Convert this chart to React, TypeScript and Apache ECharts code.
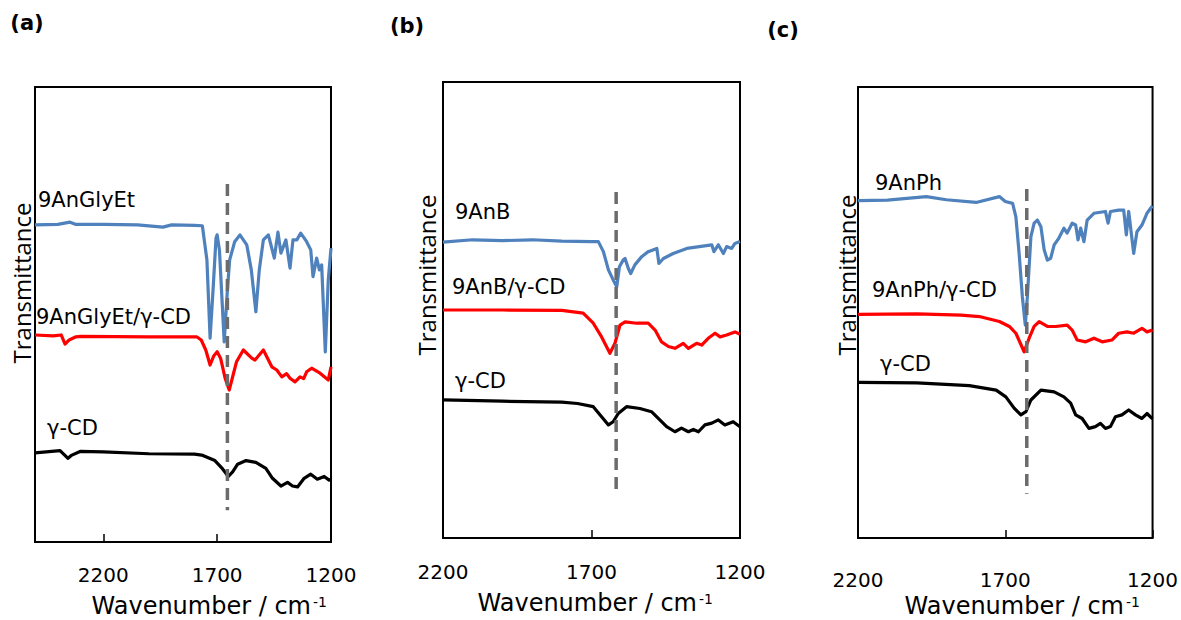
import React, { useEffect, useRef } from "react";
import * as echarts from "echarts";

// ---------- Panel (a) ----------
const aGlyEt: [number, number][] = [
  [2500, 69.7], [2400, 69.8], [2346, 70.3], [2320, 69.8], [2200, 69.8], [2050, 69.7], [1938, 69.2], [1900, 69.7],
  [1800, 69.6], [1765, 69.5], [1745, 62.0], [1731, 44.8], [1718, 55.4], [1705, 66.8], [1700, 67.5], [1690, 64.2],
  [1669, 44.0], [1655, 55.4], [1645, 62.0], [1623, 66.0], [1600, 67.5], [1570, 65.3], [1550, 59.8], [1530, 50.6],
  [1515, 59.8], [1497, 66.4], [1475, 67.5], [1449, 62.4], [1433, 68.1], [1420, 63.5], [1398, 66.4], [1380, 60.2],
  [1367, 66.4], [1350, 66.4], [1333, 67.9], [1307, 66.0], [1289, 64.2], [1279, 58.3], [1263, 62.4], [1251, 59.8],
  [1241, 60.9], [1225, 41.8], [1212, 57.6], [1200, 64.6],
];
const aGlyEtCD: [number, number][] = [
  [2500, 45.5], [2420, 45.3], [2385, 45.5], [2368, 43.5], [2350, 44.4], [2320, 45.1], [2300, 45.2], [2000, 45.1],
  [1790, 45.1], [1770, 44.4], [1750, 42.2], [1731, 38.9], [1715, 40.9], [1700, 41.8], [1685, 40.4], [1665, 36.0],
  [1647, 33.4], [1630, 36.7], [1615, 39.6], [1585, 42.2], [1548, 40.4], [1534, 40.0], [1497, 42.2], [1460, 38.5],
  [1438, 37.8], [1416, 36.3], [1395, 37.0], [1380, 36.0], [1358, 35.2], [1336, 36.3], [1320, 35.9], [1307, 37.4],
  [1285, 38.2], [1265, 37.6], [1248, 37.1], [1212, 35.6], [1200, 38.5],
];
const aCD: [number, number][] = [
  [2500, 19.6], [2390, 20.1], [2355, 18.4], [2338, 19.1], [2302, 19.9], [2200, 19.8], [2000, 19.4], [1800, 19.3],
  [1768, 19.1], [1710, 17.9], [1680, 16.3], [1651, 14.4], [1632, 15.4], [1610, 17.1], [1573, 17.9], [1530, 17.5],
  [1486, 16.2], [1457, 14.0], [1420, 12.3], [1391, 13.1], [1369, 12.3], [1347, 12.1], [1318, 14.0], [1289, 14.9],
  [1260, 13.8], [1230, 14.4], [1208, 13.6], [1200, 13.8],
];
const aRef: [number, number][] = [[1655, 78.7], [1655, 7.0]];

// ---------- Panel (b) ----------
const bAnB: [number, number][] = [
  [2200, 64.9], [2100, 65.4], [2000, 65.2], [1900, 65.4], [1800, 65.1], [1700, 65.0], [1677, 65.0], [1660, 62.8],
  [1643, 58.8], [1627, 56.6], [1615, 55.1], [1606, 59.5], [1593, 61.0], [1587, 61.3], [1576, 59.1], [1568, 58.0],
  [1554, 59.9], [1531, 61.7], [1509, 62.8], [1480, 63.5], [1473, 60.2], [1458, 61.3], [1425, 62.4], [1379, 63.5],
  [1337, 63.9], [1295, 64.3], [1288, 62.8], [1273, 64.3], [1256, 62.4], [1245, 63.9], [1228, 63.5], [1217, 64.6],
  [1200, 65.0],
];
const bAnBCD: [number, number][] = [
  [2200, 50.0], [2000, 50.0], [1800, 49.9], [1728, 49.3], [1694, 47.1], [1666, 44.1], [1638, 40.5], [1621, 42.7],
  [1604, 46.7], [1587, 47.4], [1548, 47.1], [1509, 47.1], [1486, 45.6], [1464, 43.0], [1441, 42.0], [1419, 41.6],
  [1391, 42.7], [1374, 41.6], [1346, 42.7], [1329, 42.3], [1307, 43.8], [1284, 44.9], [1267, 44.1], [1245, 44.5],
  [1217, 45.2], [1200, 44.7],
];
const bCD: [number, number][] = [
  [2200, 30.3], [2000, 30.0], [1800, 29.8], [1747, 29.5], [1694, 28.8], [1666, 26.6], [1643, 24.8], [1627, 25.5],
  [1610, 27.3], [1582, 28.8], [1537, 28.4], [1498, 27.7], [1470, 25.9], [1447, 24.4], [1419, 23.3], [1397, 24.1],
  [1374, 23.3], [1357, 23.8], [1340, 23.3], [1318, 24.8], [1295, 25.2], [1273, 25.9], [1251, 24.8], [1223, 25.5],
  [1200, 24.4],
];
const bRef: [number, number][] = [[1617, 75.9], [1617, 9.2]];

// ---------- Panel (c) ----------
const cAnPh: [number, number][] = [
  [2200, 74.8], [2100, 74.9], [1968, 75.7], [1900, 75.0], [1799, 74.4], [1720, 75.7], [1700, 74.6], [1675, 74.2],
  [1664, 71.2], [1653, 63.1], [1642, 53.5], [1632, 47.2], [1625, 53.5], [1613, 66.8], [1602, 69.8], [1591, 70.5],
  [1579, 69.0], [1568, 63.9], [1557, 61.6], [1546, 62.0], [1534, 65.0], [1518, 66.5], [1501, 68.7], [1490, 67.6],
  [1473, 69.8], [1461, 69.4], [1453, 66.1], [1444, 68.7], [1433, 65.7], [1422, 70.5], [1399, 72.0], [1360, 72.4],
  [1351, 69.8], [1343, 72.4], [1315, 72.7], [1298, 72.7], [1289, 67.2], [1281, 72.4], [1264, 63.1], [1253, 67.9],
  [1236, 69.4], [1219, 72.0], [1202, 73.5], [1200, 73.6],
];
const cAnPhCD: [number, number][] = [
  [2200, 49.6], [2000, 49.7], [1850, 49.4], [1788, 49.1], [1720, 48.0], [1686, 46.9], [1664, 45.4], [1636, 41.3],
  [1619, 44.3], [1602, 46.9], [1585, 48.0], [1557, 46.9], [1529, 46.9], [1490, 47.2], [1473, 46.1], [1456, 43.9],
  [1427, 43.5], [1399, 44.3], [1371, 43.5], [1338, 43.9], [1315, 45.4], [1287, 45.7], [1264, 45.4], [1236, 46.5],
  [1219, 45.7], [1200, 46.1],
];
const cCD: [number, number][] = [
  [2200, 34.5], [2000, 34.4], [1822, 33.8], [1731, 32.8], [1698, 31.3], [1670, 28.8], [1647, 27.3], [1630, 28.0],
  [1613, 30.6], [1579, 32.8], [1534, 32.4], [1501, 31.3], [1478, 29.9], [1461, 27.3], [1439, 26.5], [1416, 24.3],
  [1394, 24.7], [1377, 25.4], [1360, 24.3], [1343, 24.7], [1326, 26.9], [1304, 27.3], [1281, 28.4], [1258, 27.3],
  [1236, 26.5], [1219, 27.6], [1200, 26.4],
];
const cRef: [number, number][] = [[1627, 77.4], [1627, 9.8]];

const tickValues = [2200, 1700, 1200];
const panelTitles = ["(a)", "(b)", "(c)"];
const seriesNames = [
  ["γ-CD", "9AnGlyEt/γ-CD", "9AnGlyEt"],
  ["γ-CD", "9AnB/γ-CD", "9AnB"],
  ["γ-CD", "9AnPh/γ-CD", "9AnPh"],
];
const xAxisTitle = "Wavenumber / cm";
const xAxisTitleSup = "-1";
const yAxisTitle = "Transmittance";

const BLUE = "#4f81bd";
const RED = "#ff0000";
const BLACK = "#000000";
const DASH = "#6b6b6b";
const F_LABEL = "'DejaVu Sans', sans-serif";
const F_AXIS = "'Open Sans', sans-serif";

const panels = [
  {
    grid: { left: 35, top: 87, width: 296, height: 455 },
    min: 1200, max: 2500, labelMargin: 23,
    curves: [aCD, aGlyEtCD, aGlyEt], ref: aRef,
    title: [27, 23], yName: [21, 283], xName: [208, 606],
    labels: [[47, 428], [36, 317], [38, 200]],
  },
  {
    grid: { left: 443, top: 82, width: 297, height: 456 },
    min: 1200, max: 2200, labelMargin: 24,
    curves: [bCD, bAnBCD, bAnB], ref: bRef,
    title: [407, 26], yName: [426, 275], xName: [594, 603],
    labels: [[455, 381], [452, 287], [455, 212]],
  },
  {
    grid: { left: 858, top: 87, width: 296, height: 451 },
    min: 1200, max: 2200, labelMargin: 32,
    curves: [cCD, cAnPhCD, cAnPh], ref: cRef,
    title: [783, 30], yName: [846, 275], xName: [1021, 606],
    labels: [[880, 364], [872, 290], [875, 183]],
  },
];

export default function App() {
  const ref = useRef<HTMLDivElement>(null);
  useEffect(() => {
    document.body.style.margin = "0";
    if (!ref.current) return;
    const chart = echarts.init(ref.current, undefined, { renderer: "svg" });
    const colors = [BLACK, RED, BLUE];
    const series: any[] = [];
    const graphic: any[] = [];
    panels.forEach((p, i) => {
      p.curves.forEach((d, k) => {
        series.push({
          type: "line", name: seriesNames[i][k], xAxisIndex: i, yAxisIndex: i, data: d,
          showSymbol: false, silent: true, clip: true,
          lineStyle: { color: colors[k], width: 3.2, join: "round" }, itemStyle: { color: colors[k] },
        });
      });
      series.push({
        type: "line", name: "ref" + i, xAxisIndex: i, yAxisIndex: i, data: p.ref,
        showSymbol: false, silent: true,
        lineStyle: { color: DASH, width: 3.5, type: [12, 7] }, itemStyle: { color: DASH },
      });
      graphic.push({
        type: "text", x: p.title[0], y: p.title[1],
        style: { text: panelTitles[i], fontFamily: F_LABEL, fontWeight: "bold", fontSize: 21, fill: "#000", align: "center", verticalAlign: "middle" },
      });
      graphic.push({
        type: "text", x: p.yName[0], y: p.yName[1], rotation: Math.PI / 2,
        style: { text: yAxisTitle, fontFamily: F_AXIS, fontSize: 24, fill: "#000", align: "center", verticalAlign: "middle" },
      });
      // x axis title, with its superscript as a separate small text
      graphic.push({
        type: "text", x: p.xName[0] + 103, y: p.xName[1],
        style: { text: xAxisTitle, fontFamily: F_LABEL, fontSize: 24, fill: "#000", align: "right", verticalAlign: "middle" },
      });
      graphic.push({
        type: "text", x: p.xName[0] + 105, y: p.xName[1] - 4,
        style: { text: xAxisTitleSup, fontFamily: F_LABEL, fontSize: 14, fill: "#000", align: "left", verticalAlign: "middle" },
      });
      p.labels.forEach((pos, k) => {
        graphic.push({
          type: "text", x: pos[0], y: pos[1],
          style: { text: seriesNames[i][k], fontFamily: F_LABEL, fontSize: 21, fill: "#000", align: "left", verticalAlign: "middle" },
        });
      });
    });

    chart.setOption({
      animation: false,
      backgroundColor: "#ffffff",
      grid: panels.map((p) => ({ ...p.grid, show: true, borderColor: "#000", borderWidth: 2, backgroundColor: "transparent" })),
      xAxis: panels.map((p, i) => ({
        type: "value", gridIndex: i, inverse: true, min: p.min, max: p.max, interval: 500,
        axisLine: { show: false },
        axisTick: { show: true, inside: true, length: 8, lineStyle: { color: "#000", width: 1.5 } },
        splitLine: { show: false },
        axisLabel: {
          margin: p.labelMargin, fontFamily: F_LABEL, fontSize: 20, color: "#000",
          formatter: (v: number) => (tickValues.includes(v) ? String(v) : ""),
        },
      })),
      yAxis: panels.map((p, i) => ({
        type: "value", gridIndex: i, min: 0, max: 100,
        axisLine: { show: false }, axisTick: { show: false }, axisLabel: { show: false }, splitLine: { show: false },
      })),
      series,
      graphic,
    });
    return () => chart.dispose();
  }, []);
  return <div ref={ref} style={{ width: 1181, height: 620 }} />;
}
